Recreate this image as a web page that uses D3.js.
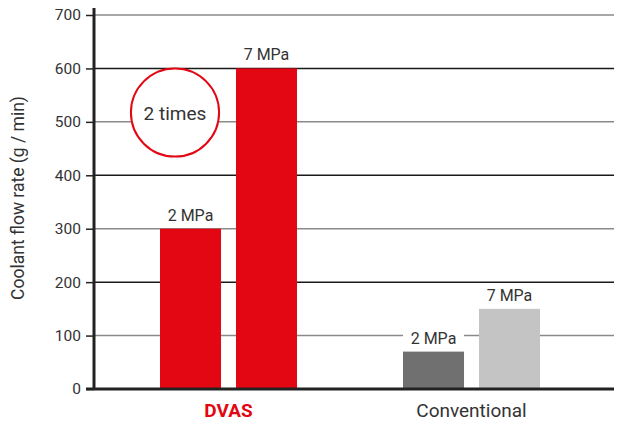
<!DOCTYPE html>
<html><head><meta charset="utf-8">
<script src="https://cdn.jsdelivr.net/npm/d3@7"></script>
<style>body{margin:0;background:#fff}svg{display:block}text{font-family:Roboto,"Noto Sans",sans-serif}</style>
</head><body><svg id="c" width="621" height="427"></svg>
<script>
const categories = ["DVAS", "Conventional"];
const series = ["2 MPa", "7 MPa"];
const dvasValues = [300, 600];
const conventionalValues = [70, 150];
const yTicks = [0, 100, 200, 300, 400, 500, 600, 700];
const yTitle = "Coolant flow rate (g / min)";
const annotation = "2 times";

const data = categories.map((c, i) => ({cat: c, vals: i === 0 ? dvasValues : conventionalValues}));
const colors = {DVAS: ["#e30613", "#e30613"], Conventional: ["#707070", "#c4c4c4"]};

const svg = d3.select("#c");
const y = d3.scaleLinear().domain([0, 700]).range([389, 15]);
const x0 = d3.scaleBand().domain(categories).range([107, 593]).padding(0);
const x1 = d3.scaleBand().domain(series).range([53, 190]).paddingInner(0.197).paddingOuter(0);

// gridlines
svg.append("g").selectAll("line").data(yTicks.filter(t => t > 0)).join("line")
  .attr("x1", 94).attr("x2", 614)
  .attr("y1", d => y(d)).attr("y2", d => y(d))
  .attr("stroke", d => (d / 100) % 2 === 1 ? "#8a8a8a" : "#1a1a1a")
  .attr("stroke-width", 1.5);

// y axis
const yAxis = d3.axisLeft(y).tickValues(yTicks).tickSize(8).tickPadding(5);
const ga = svg.append("g").attr("transform", "translate(94,0)").call(yAxis);
ga.select(".domain").remove();
ga.selectAll(".tick line").attr("stroke", "#222").attr("stroke-width", 1.5);
ga.selectAll(".tick text").attr("font-size", 15.5).attr("fill", "#333")
  .attr("font-family", "Roboto, sans-serif");

// bars
const groups = svg.append("g").selectAll("g").data(data).join("g")
  .attr("transform", d => `translate(${x0(d.cat)},0)`);
groups.selectAll("rect").data(d => d.vals.map((v, j) => ({cat: d.cat, s: series[j], v, j}))).join("rect")
  .attr("x", d => x1(d.s)).attr("width", x1.bandwidth())
  .attr("y", d => y(d.v)).attr("height", d => y(0) - y(d.v))
  .attr("fill", d => colors[d.cat][d.j]);

// bar labels with white background
const bw = x1.bandwidth();
const lbl = groups.selectAll("g.lbl").data(d => d.vals.map((v, j) => ({cat: d.cat, s: series[j], v}))).join("g")
  .attr("class", "lbl")
  .attr("transform", d => `translate(${x1(d.s) + bw / 2},${y(d.v) - 8})`);
lbl.append("rect").attr("x", -bw / 2).attr("y", -14).attr("width", bw).attr("height", 19).attr("fill", "#fff")
  .attr("opacity", d => d.cat === "Conventional" ? 1 : 0);
lbl.append("text").attr("text-anchor", "middle").attr("font-size", 16).attr("fill", "#333")
  .text(d => d.s);

// axes lines
svg.append("line").attr("x1", 94).attr("x2", 94).attr("y1", 8).attr("y2", 390)
  .attr("stroke", "#222").attr("stroke-width", 3);
svg.append("line").attr("x1", 86).attr("x2", 614).attr("y1", y(0)).attr("y2", y(0))
  .attr("stroke", "#222").attr("stroke-width", 3);

// category labels
svg.append("g").selectAll("text").data(categories).join("text")
  .attr("x", d => x0(d) + x0.bandwidth() / 2).attr("y", 417)
  .attr("text-anchor", "middle").attr("font-size", 19)
  .attr("font-weight", d => d === "DVAS" ? "bold" : "normal")
  .attr("fill", d => d === "DVAS" ? "#e30613" : "#333")
  .text(d => d);

// y title
svg.append("text").attr("transform", "translate(24,198) rotate(-90)")
  .attr("text-anchor", "middle").attr("font-size", 17.5).attr("fill", "#333").text(yTitle);

// annotation circle
const cy = (y(dvasValues[1]) + y(435)) / 2;
const r = (y(435) - y(dvasValues[1])) / 2;
svg.append("circle").attr("cx", 175).attr("cy", cy).attr("r", r)
  .attr("fill", "#fff").attr("stroke", "#e30613").attr("stroke-width", 2);
svg.append("text").attr("x", 175).attr("y", cy + 7).attr("text-anchor", "middle")
  .attr("font-size", 19).attr("fill", "#333").text(annotation);
</script></body></html>
